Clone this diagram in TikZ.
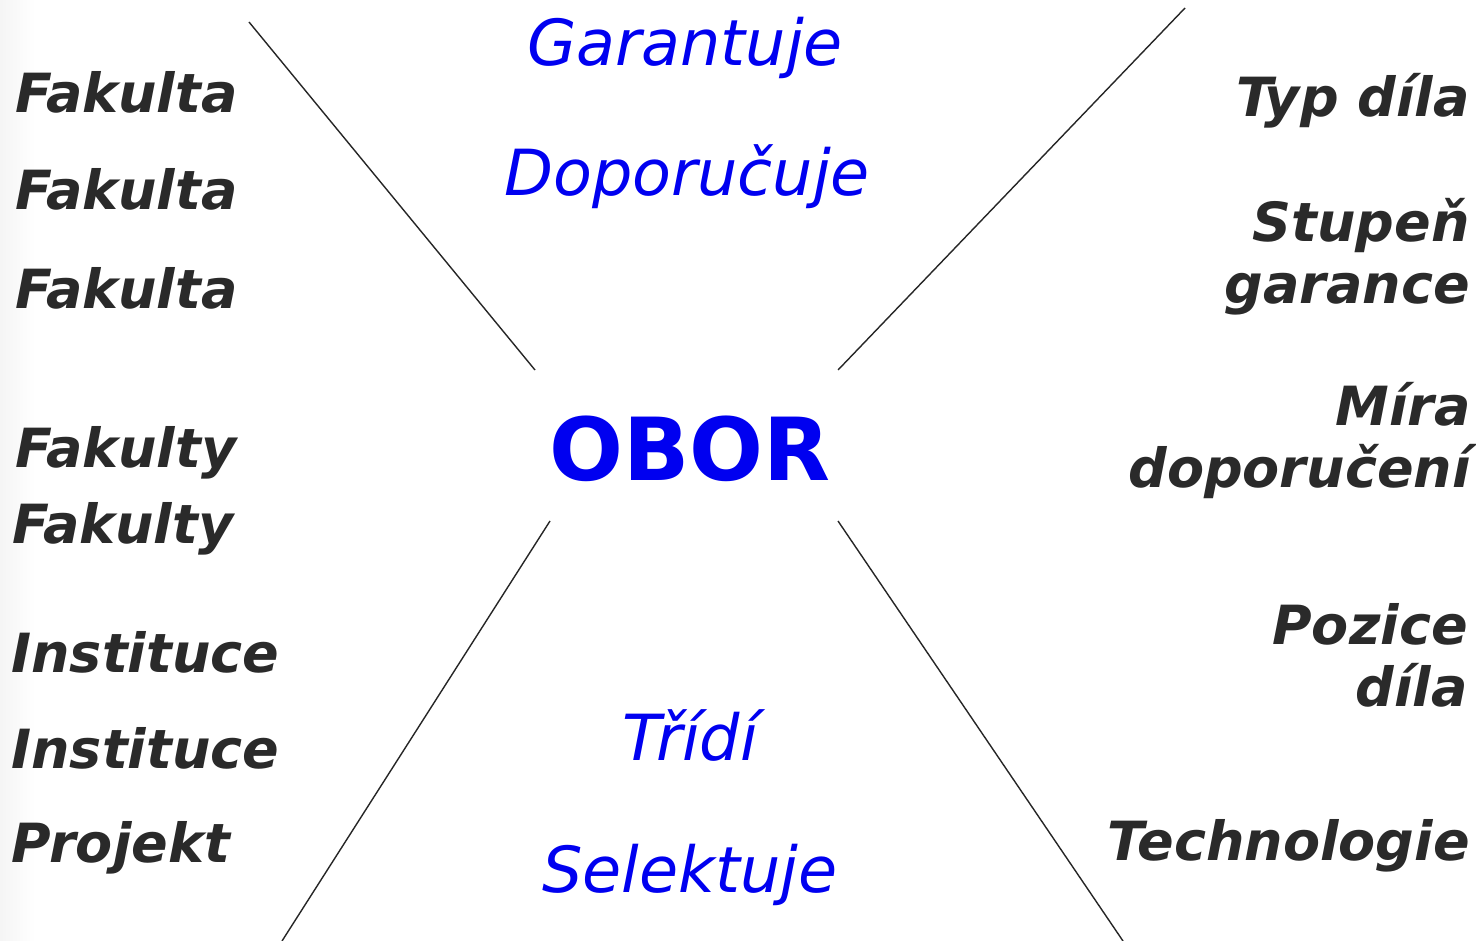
\documentclass[tikz,border=0pt]{standalone}
\usepackage{fontspec}
\setmainfont{DejaVu Sans}
\definecolor{txt}{HTML}{2A2A2A}
\definecolor{obblue}{HTML}{0000F0}
\tikzset{
  lbl/.style={font=\fontsize{27}{31}\selectfont\bfseries\itshape, text=txt, inner sep=0pt},
  lblL/.style={lbl, anchor=base west},
  lblR/.style={lbl, anchor=base east, align=right},
  act/.style={font=\fontsize{31.8}{36}\selectfont\itshape, text=obblue, inner sep=0pt, anchor=base},
  hub/.style={font=\fontsize{43.5}{48}\selectfont\bfseries, text=obblue, inner sep=0pt, anchor=base},
  ray/.style={draw=black!85, line width=0.7pt}
}
\begin{document}
\begin{tikzpicture}[x=0.5pt,y=-0.5pt]
\useasboundingbox (0,0) rectangle (1476,941);
\fill[white] (0,0) rectangle (1476,941);
\shade[left color=black!4, right color=white] (0,0) rectangle (35,941);
% rays
\coordinate (l1a) at (249,22);  \coordinate (l1b) at (535,370);
\coordinate (l2a) at (1185,8);  \coordinate (l2b) at (838,370);
\coordinate (l3a) at (550,521); \coordinate (l3b) at (282,941);
\coordinate (l4a) at (838,521); \coordinate (l4b) at (1123,941);
\draw[ray] (l1a) -- (l1b);
\draw[ray] (l2a) -- (l2b);
\draw[ray] (l3a) -- (l3b);
\draw[ray] (l4a) -- (l4b);
% left labels
\node[lblL] (f1) at (15,113) {Fakulta};
\node[lblL] (f2) at (15,210) {Fakulta};
\node[lblL] (f3) at (15,308) {Fakulta};
\node[lblL] (fy1) at (15,467) {Fakulty};
\node[lblL] (fy2) at (12,543) {Fakulty};
\node[lblL] (i1) at (11,672) {Instituce};
\node[lblL] (i2) at (11,768) {Instituce};
\node[lblL] (pr) at (11,862) {Projekt};
% right labels (base anchor = last line)
\node[lblR] (typ) at (1470,117) {Typ díla};
\node[lblR] (stu) at (1470,303) {Stupeň\\garance};
\node[lblR] (mir) at (1471,487) {Míra\\doporučení};
\node[lblR] (poz) at (1468,706) {Pozice\\díla};
\node[lblR] (tec) at (1470,860) {Technologie};
% center
\node[act] (gar) at (685,66) {Garantuje};
\node[act] (dop) at (687,196) {Doporučuje};
\node[hub] (obor) at (690,480) {OBOR};
\node[act] (tri) at (690,760) {Třídí};
\node[act] (sel) at (690,892) {Selektuje};
\end{tikzpicture}
\end{document}
